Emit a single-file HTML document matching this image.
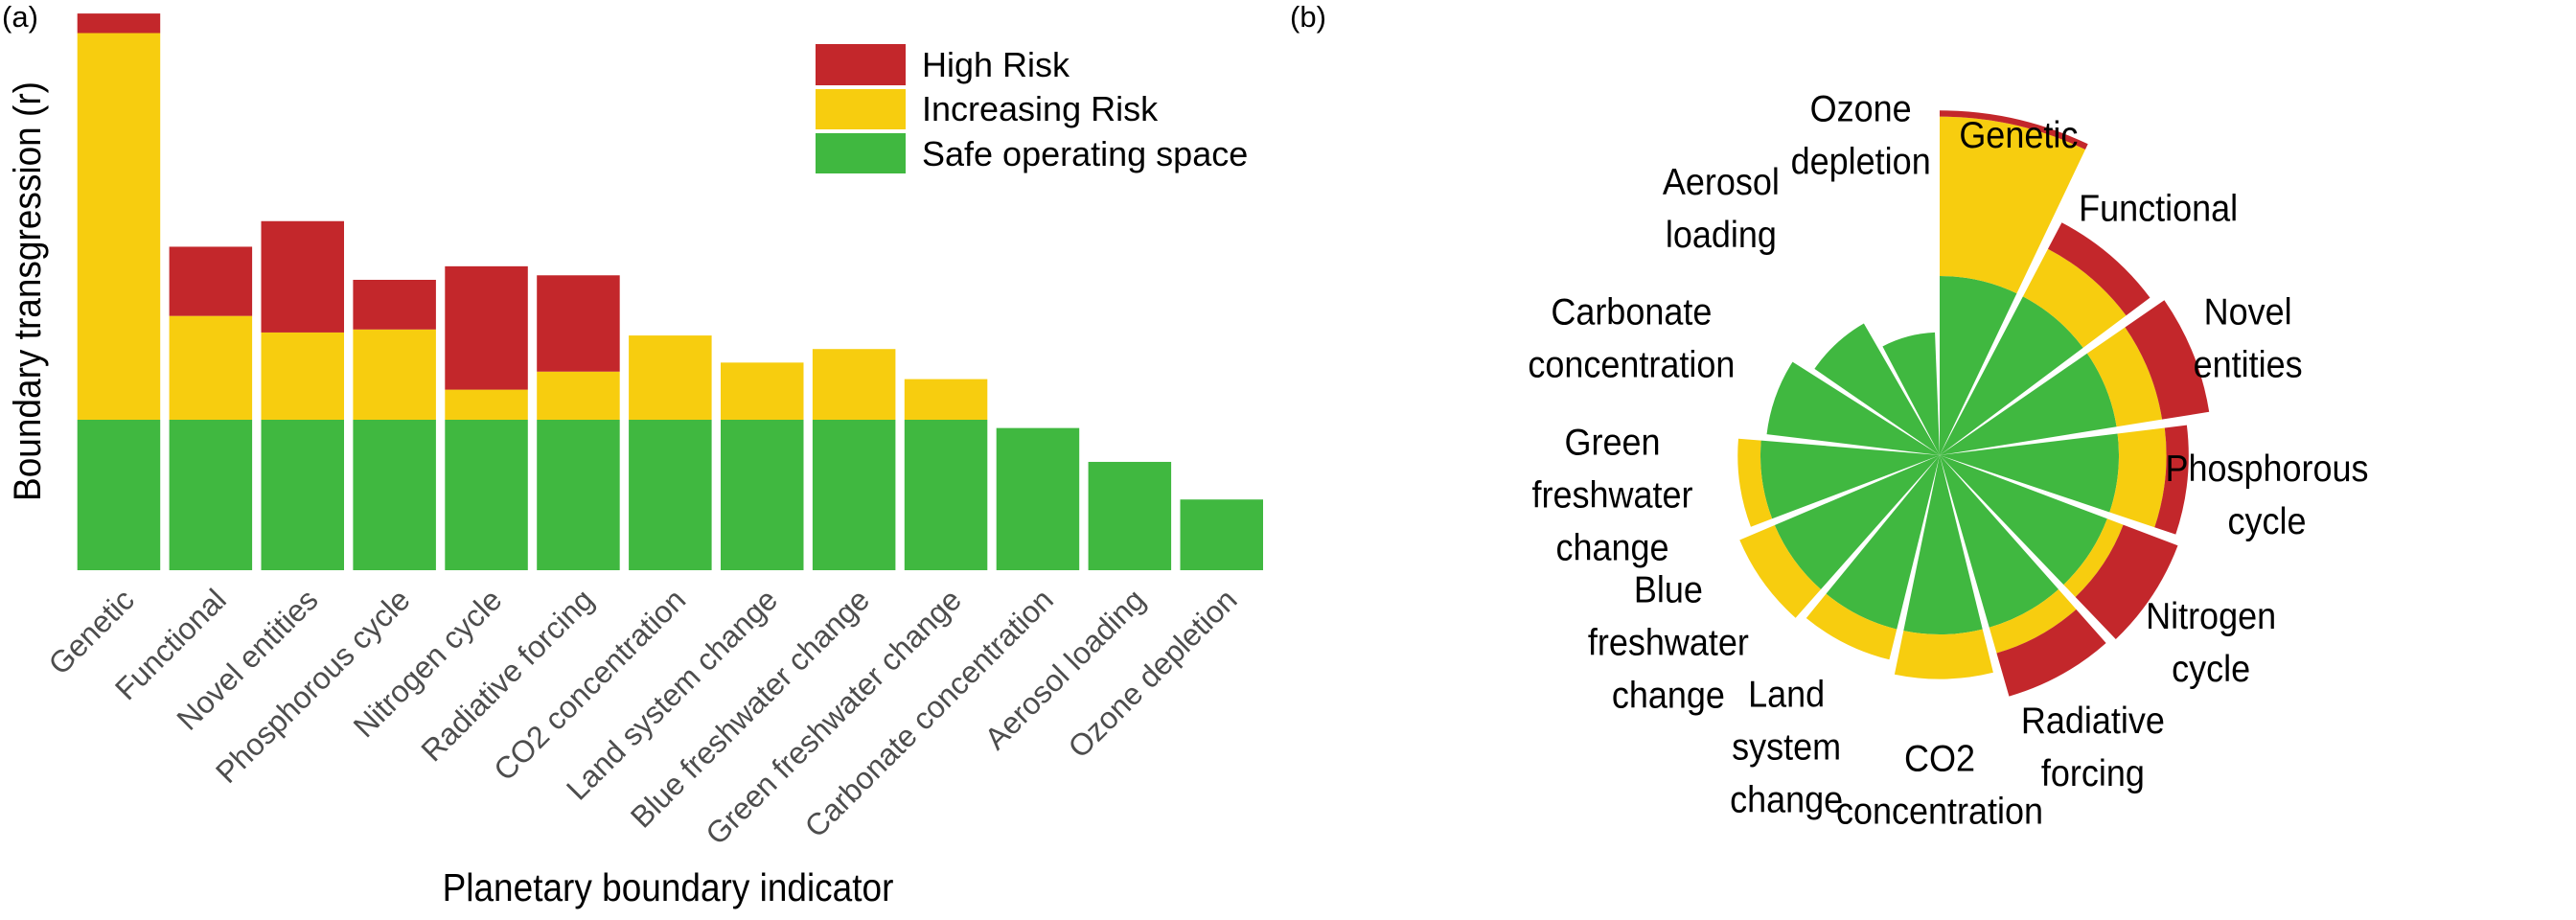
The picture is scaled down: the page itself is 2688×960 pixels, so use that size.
<!DOCTYPE html>
<html><head><meta charset="utf-8">
<style>
html,body{margin:0;padding:0;background:#fff;}
svg{display:block;font-family:"Liberation Sans",sans-serif;}
</style></head>
<body>
<svg id="chart" width="2688" height="960" viewBox="0 0 2688 960">
  <text x="2" y="28" font-size="31">(a)</text>
  <text x="1346" y="28" font-size="31">(b)</text>
  <g id="bars"></g>
  <g id="xlabels"></g>
  <text x="0" y="0" font-size="37" text-anchor="middle" transform="translate(42,304) rotate(-90) scale(1,1.08)">Boundary transgression (r)</text>
  <text x="0" y="0" font-size="37" text-anchor="middle" transform="translate(697,940) scale(1,1.1)">Planetary boundary indicator</text>
  <g>
    <g>
      <rect x="851" y="46" width="94" height="43" fill="#c3272b"/>
      <text x="962" y="80" font-size="36">High Risk</text>
    </g>
    <g>
      <rect x="851" y="93" width="94" height="42" fill="#f7cd0f"/>
      <text x="962" y="126" font-size="36">Increasing Risk</text>
    </g>
    <g>
      <rect x="851" y="139" width="94" height="42" fill="#40b840"/>
      <text x="962" y="173" font-size="36">Safe operating space</text>
    </g>
  </g>
  <g id="polar"></g>
  <g id="plabels"></g>
</svg>
<script>
const categories = ["Genetic","Functional","Novel entities","Phosphorous cycle","Nitrogen cycle","Radiative forcing","CO2 concentration","Land system change","Blue freshwater change","Green freshwater change","Carbonate concentration","Aerosol loading","Ozone depletion"];
const polarLabels = [["Genetic"],["Functional"],["Novel","entities"],["Phosphorous","cycle"],["Nitrogen","cycle"],["Radiative","forcing"],["CO2","concentration"],["Land","system","change"],["Blue","freshwater","change"],["Green","freshwater","change"],["Carbonate","concentration"],["Aerosol","loading"],["Ozone","depletion"]];
const safeValues = [1,1,1,1,1,1,1,1,1,1,0.945,0.72,0.47];
const increasingValues = [2.57,0.69,0.58,0.60,0.20,0.32,0.56,0.38,0.47,0.27,0,0,0];
const highValues = [0.13,0.46,0.74,0.33,0.82,0.64,0,0,0,0,0,0,0];

const NS="http://www.w3.org/2000/svg";
const RED="#c3272b", YEL="#f7cd0f", GRN="#40b840";
function mk(tag,attrs,parent){const e=document.createElementNS(NS,tag);for(const k in attrs)e.setAttribute(k,attrs[k]);parent.appendChild(e);return e;}

// ---- bar chart axes ----
const x0=76, step=95.9, bw=86.5, yBase=595, pxPerUnit=157;
const xScale=i=>x0+i*step+(step-bw)/2;
const yScale=v=>yBase-v*pxPerUnit;
const gb=document.getElementById('bars'), gx=document.getElementById('xlabels');
categories.forEach((c,i)=>{
  const s=safeValues[i], inc=increasingValues[i], hi=highValues[i];
  const segs=[[0,s,GRN,'safe'],[s,s+inc,YEL,'increasing'],[s+inc,s+inc+hi,RED,'high']];
  segs.forEach(([a,b,col,nm])=>{
    if(b-a<=0)return;
    const r=mk('rect',{x:xScale(i),y:yScale(b),width:bw,height:yScale(a)-yScale(b),fill:col},gb);
    
    
  });
  const cx=xScale(i)+bw/2;
  const t=mk('text',{x:0,y:0,'font-size':32,fill:'#4d4d4d','text-anchor':'end',transform:`translate(${cx+18},${628}) rotate(-45)`},gx);
  t.textContent=c;
  
  
});

// ---- polar chart ----
const cx=2024, cy=475, R=187, n=categories.length, w=2*Math.PI/n, frac=0.92;
const rScale=v=>R*Math.sqrt(v);
const gp=document.getElementById('polar'), gl=document.getElementById('plabels');
function pt(r,a){return [cx+r*Math.sin(a), cy-r*Math.cos(a)];}
function wedge(r0,r1,a0,a1){
  const [x1,y1]=pt(r1,a0),[x2,y2]=pt(r1,a1);
  if(r0<=0) return `M${cx},${cy}L${x1},${y1}A${r1},${r1} 0 0 1 ${x2},${y2}Z`;
  const [x3,y3]=pt(r0,a1),[x4,y4]=pt(r0,a0);
  return `M${x4},${y4}L${x1},${y1}A${r1},${r1} 0 0 1 ${x2},${y2}L${x3},${y3}A${r0},${r0} 0 0 0 ${x4},${y4}Z`;
}
categories.forEach((c,i)=>{
  const a0=i*w, a1=i*w+w*frac;
  const s=safeValues[i], inc=increasingValues[i], hi=highValues[i];
  const segs=[[0,s,GRN,'safe'],[s,s+inc,YEL,'increasing'],[s+inc,s+inc+hi,RED,'high']];
  segs.forEach(([a,b,col,nm])=>{
    if(b-a<=0)return;
    const p=mk('path',{d:wedge(a>0?rScale(a):0,rScale(b),a0,a1),fill:col},gp);
    
    
  });
  const lines=polarLabels[i];
  const [lx,ly]=pt(344,(i+0.5)*w);
  const lh=55, top=ly-(lines.length-1)*lh/2;
  lines.forEach((ln,j)=>{
    const t=mk('text',{x:0,y:0,'font-size':36,'text-anchor':'middle',fill:'#000',transform:`translate(${lx},${top+j*lh+13}) scale(1,1.08)`},gl);
    t.textContent=ln;
    
    
  });
});
</script>
</body></html>
